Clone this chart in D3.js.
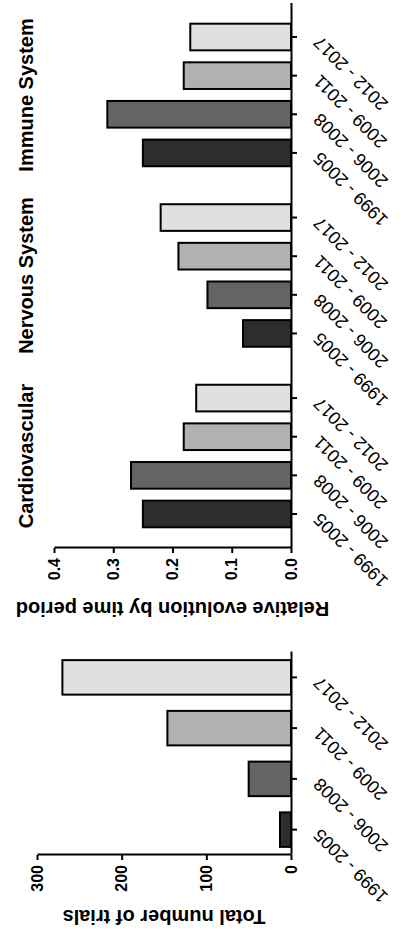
<!DOCTYPE html>
<html>
<head>
<meta charset="utf-8">
<script src="https://cdn.jsdelivr.net/npm/d3@7"></script>
<style>
  html, body { margin: 0; padding: 0; background: #ffffff; }
  svg { display: block; }
</style>
</head>
<body>
<svg id="chart" width="416" height="938"></svg>
<script>
// ---- data ----
const periods = ["1999 - 2005", "2006 - 2008", "2009 - 2011", "2012 - 2017"];
const totalTrials = [13, 50, 146, 270];
const systems = ["Cardiovascular", "Nervous System", "Immune System"];
const relCardiovascular = [0.250, 0.270, 0.181, 0.160];
const relNervous = [0.081, 0.141, 0.190, 0.220];
const relImmune = [0.250, 0.310, 0.181, 0.170];
const totalTicks = [0, 100, 200, 300];
const relTicks = [0, 0.1, 0.2, 0.3, 0.4];
const periodFills = ["#2d2d2d", "#646464", "#b1b1b1", "#e0e0e0"];

const relBySystem = [relCardiovascular, relNervous, relImmune];

// ---- layout: the figure is laid out landscape (938 x 416) and turned a quarter turn ----
const W = 938, H = 416;
const FONT = "'Liberation Sans', Arial, Helvetica, sans-serif";
const baseY = 291;

const svg = d3.select("#chart");
const root = svg.append("g").attr("transform", `translate(0,${W}) rotate(-90)`);

const fillOf = d3.scaleOrdinal().domain(periods).range(periodFills);

function styleValueAxis(g) {
  g.select(".domain").attr("stroke", "#000").attr("stroke-width", 2);
  g.selectAll(".tick line").attr("stroke", "#000").attr("stroke-width", 2);
  g.selectAll(".tick text")
    .attr("fill", "#000")
    .style("font-family", FONT)
    .style("font-size", "16px")
    .style("font-weight", "bold");
}

function styleCategoryAxis(g) {
  g.selectAll(".tick line").attr("stroke", "#000").attr("stroke-width", 2);
  g.selectAll(".tick text")
    .attr("x", null).attr("y", null).attr("dy", null)
    .attr("transform", "translate(2,30) rotate(-45)")
    .attr("text-anchor", "end")
    .attr("fill", "#000")
    .style("font-family", FONT)
    .style("font-size", "18px")
    .style("font-weight", "normal");
}

// ---- left panel: total number of trials ----
const xTotal = d3.scaleBand().domain(periods).range([83, 286]).paddingInner(0.32).paddingOuter(0.16);
const yTotal = d3.scaleLinear().domain([0, 300]).range([baseY, 37]);

const left = root.append("g");

left.selectAll("rect.bar")
  .data(periods.map((p, i) => ({ p, v: totalTrials[i] })))
  .join("rect")
  .attr("class", "bar")
  .attr("x", d => xTotal(d.p))
  .attr("width", xTotal.bandwidth())
  .attr("y", d => yTotal(d.v))
  .attr("height", d => baseY - yTotal(d.v))
  .attr("fill", d => fillOf(d.p))
  .attr("stroke", "#000")
  .attr("stroke-width", 2);

left.append("g")
  .attr("transform", `translate(83,0)`)
  .call(d3.axisLeft(yTotal).tickValues(totalTicks).tickFormat(d3.format("d"))
    .tickSize(5).tickPadding(5).tickSizeOuter(0))
  .call(styleValueAxis);

left.append("g")
  .attr("transform", `translate(0,${baseY})`)
  .call(d3.axisBottom(xTotal).tickSize(6).tickSizeOuter(0))
  .call(g => g.select(".domain").attr("stroke", "#000").attr("stroke-width", 2))
  .call(styleCategoryAxis);

left.append("text")
  .attr("transform", `translate(28,${(yTotal(0) + yTotal(300)) / 2}) rotate(-90)`)
  .attr("text-anchor", "middle")
  .style("font-family", FONT)
  .style("font-size", "20px")
  .style("font-weight", "bold")
  .text("Total number of trials");

// ---- right panel: relative evolution per system ----
const xGroup = d3.scaleBand().domain(systems).range([404.7, 920.3]).paddingInner(0.144).paddingOuter(0);
const xPeriod = d3.scaleBand().domain(periods).range([0, xGroup.bandwidth()])
  .paddingInner(0.31).paddingOuter(0.155);
const yRel = d3.scaleLinear().domain([0, 0.4]).range([baseY, 54]);

const right = root.append("g");

systems.forEach((s, si) => {
  const grp = right.append("g").attr("transform", `translate(${xGroup(s)},0)`);
  grp.selectAll("rect.bar")
    .data(periods.map((p, i) => ({ p, v: relBySystem[si][i] })))
    .join("rect")
    .attr("class", "bar")
    .attr("x", d => xPeriod(d.p))
    .attr("width", xPeriod.bandwidth())
    .attr("y", d => yRel(d.v))
    .attr("height", d => baseY - yRel(d.v))
    .attr("fill", d => fillOf(d.p))
    .attr("stroke", "#000")
    .attr("stroke-width", 2);

  grp.append("g")
    .attr("transform", `translate(0,${baseY})`)
    .call(d3.axisBottom(xPeriod).tickSize(6).tickSizeOuter(0))
    .call(g => g.select(".domain").remove())
    .call(styleCategoryAxis);

  grp.append("text")
    .attr("x", xGroup.bandwidth() / 2)
    .attr("y", 33)
    .attr("text-anchor", "middle")
    .style("font-family", FONT)
    .style("font-size", "20px")
    .style("font-weight", "bold")
    .text(s);
});

// category baseline spanning all groups
right.append("line")
  .attr("x1", 390).attr("x2", 935)
  .attr("y1", baseY + 0.5).attr("y2", baseY + 0.5)
  .attr("stroke", "#000").attr("stroke-width", 2);

right.append("g")
  .attr("transform", `translate(390,0)`)
  .call(d3.axisLeft(yRel).tickValues(relTicks).tickFormat(d3.format(".1f"))
    .tickSize(5).tickPadding(5).tickSizeOuter(0))
  .call(styleValueAxis);

right.append("text")
  .attr("transform", `translate(336,${(yRel(0) + yRel(0.4)) / 2}) rotate(-90)`)
  .attr("text-anchor", "middle")
  .style("font-family", FONT)
  .style("font-size", "20px")
  .style("font-weight", "bold")
  .text("Relative evolution by time period");
</script>
</body>
</html>
